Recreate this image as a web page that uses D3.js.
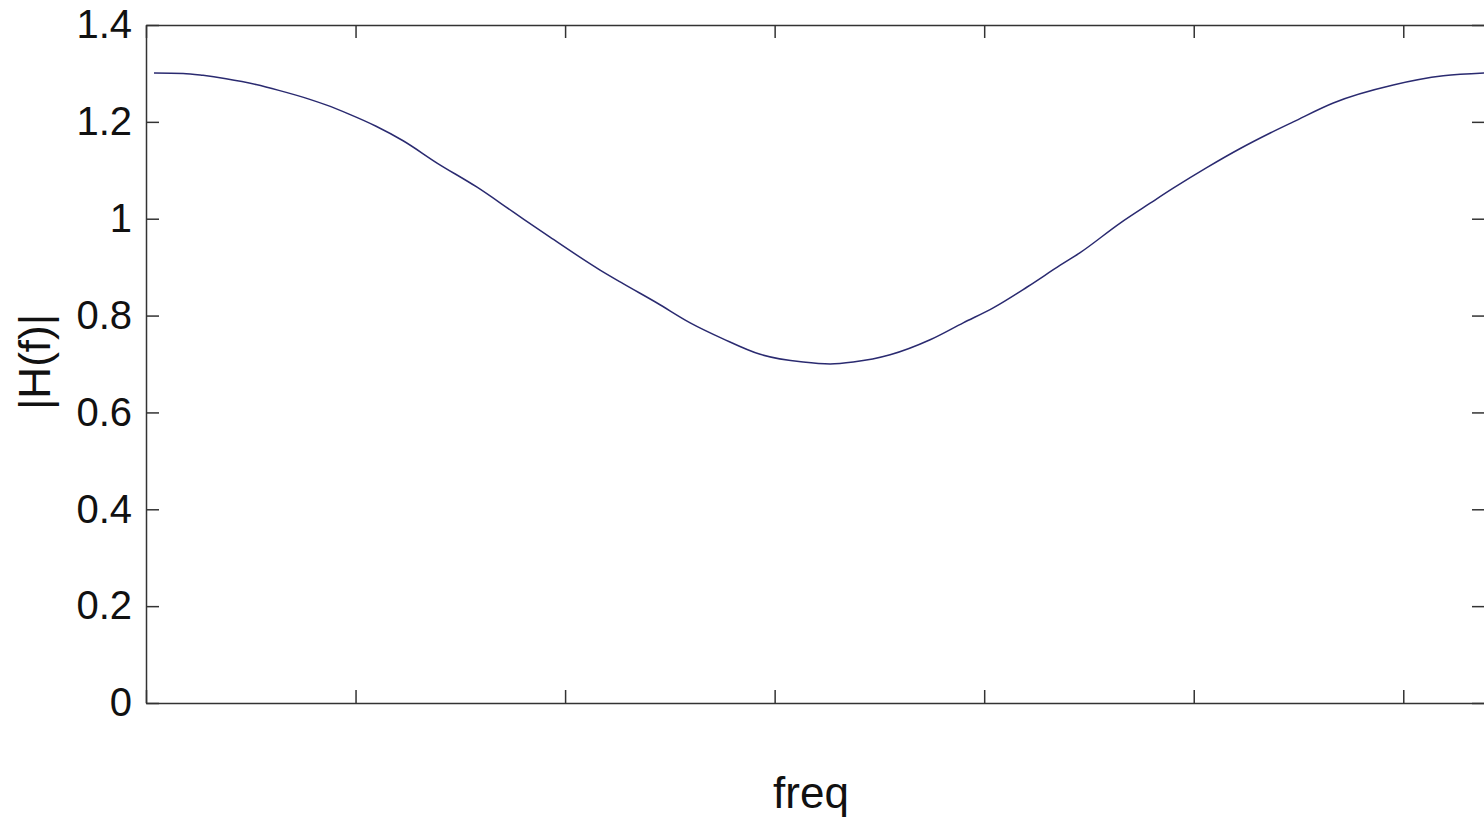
<!DOCTYPE html>
<html>
<head>
<meta charset="utf-8">
<script src="https://cdn.jsdelivr.net/npm/d3@7"></script>
<style>
  body { margin: 0; background: #fff; }
  svg { display: block; }
  .tick text { font-family: "Liberation Sans", Arial, sans-serif; }
</style>
</head>
<body>
<svg></svg>
<script>
// frequency position (in tick units) and magnitude
var freq = [0.038, 0.177, 0.272, 0.382, 0.525, 0.634, 0.778, 0.859, 0.969, 1.098,
            1.227, 1.389, 1.580, 1.752, 1.928, 2.167, 2.277, 2.439, 2.597, 2.754,
            2.931, 3.136, 3.265, 3.375, 3.551, 3.742, 3.900, 4.043, 4.205, 4.363,
            4.458, 4.649, 4.792, 4.902, 5.064, 5.222, 5.365, 5.475, 5.666, 5.952,
            6.191, 6.387];
var mag = [1.301, 1.300, 1.296, 1.289, 1.277, 1.265, 1.247, 1.235, 1.216, 1.191,
           1.161, 1.115, 1.065, 1.014, 0.962, 0.894, 0.866, 0.826, 0.785, 0.752,
           0.720, 0.704, 0.700, 0.704, 0.719, 0.750, 0.785, 0.816, 0.859, 0.904,
           0.930, 0.991, 1.032, 1.063, 1.106, 1.145, 1.177, 1.200, 1.239, 1.276,
           1.295, 1.301];
var yTicks = [0, 0.2, 0.4, 0.6, 0.8, 1, 1.2, 1.4];
var xTicks = [0, 1, 2, 3, 4, 5, 6];

var screen = {width: 1484, height: 822};
var box = {left: 146, right: 1485, top: 25, bottom: 703};

var svg = d3.select("svg")
            .attr("width", screen.width)
            .attr("height", screen.height);

var x = d3.scaleLinear().domain([0, 6.39]).range([box.left, box.right]);
var y = d3.scaleLinear().domain([0, 1.4]).range([box.bottom, box.top]);

var data = freq.map(function(f, i) { return {f: f, m: mag[i]}; });

function styleAxis(g) {
  g.selectAll("path").attr("stroke", "#333").attr("stroke-width", 1.5);
  g.selectAll("line").attr("stroke", "#333").attr("stroke-width", 1.5);
  g.selectAll("text").attr("font-size", 40).attr("fill", "#111");
}

svg.append("g")
   .attr("transform", "translate(" + box.left + ",0)")
   .call(d3.axisLeft(y).tickValues(yTicks).tickSize(-13).tickSizeOuter(0)
           .tickPadding(14).tickFormat(d3.format("")))
   .call(styleAxis);

svg.append("g")
   .attr("transform", "translate(" + box.right + ",0)")
   .call(d3.axisRight(y).tickValues(yTicks).tickSize(-13).tickSizeOuter(0).tickFormat(""))
   .call(styleAxis);

svg.append("g")
   .attr("transform", "translate(0," + box.bottom + ")")
   .call(d3.axisBottom(x).tickValues(xTicks).tickSize(-13).tickSizeOuter(0).tickFormat(""))
   .call(styleAxis);

svg.append("g")
   .attr("transform", "translate(0," + box.top + ")")
   .call(d3.axisTop(x).tickValues(xTicks).tickSize(-13).tickSizeOuter(0).tickFormat(""))
   .call(styleAxis);

var line = d3.line()
             .x(function(d) { return x(d.f); })
             .y(function(d) { return y(d.m); })
             .curve(d3.curveMonotoneX);

svg.append("path")
   .datum(data)
   .attr("d", line)
   .attr("fill", "none")
   .attr("stroke", "#2a2a70")
   .attr("stroke-width", 1.5);

svg.append("text")
   .attr("x", 811)
   .attr("y", 808)
   .attr("text-anchor", "middle")
   .attr("font-family", "Liberation Sans, Arial, sans-serif")
   .attr("font-size", 44)
   .attr("fill", "#111")
   .text("freq");

svg.append("text")
   .attr("transform", "translate(50,362) rotate(-90)")
   .attr("text-anchor", "middle")
   .attr("font-family", "Liberation Sans, Arial, sans-serif")
   .attr("font-size", 44)
   .attr("fill", "#111")
   .text("|H(f)|");
</script>
</body>
</html>
